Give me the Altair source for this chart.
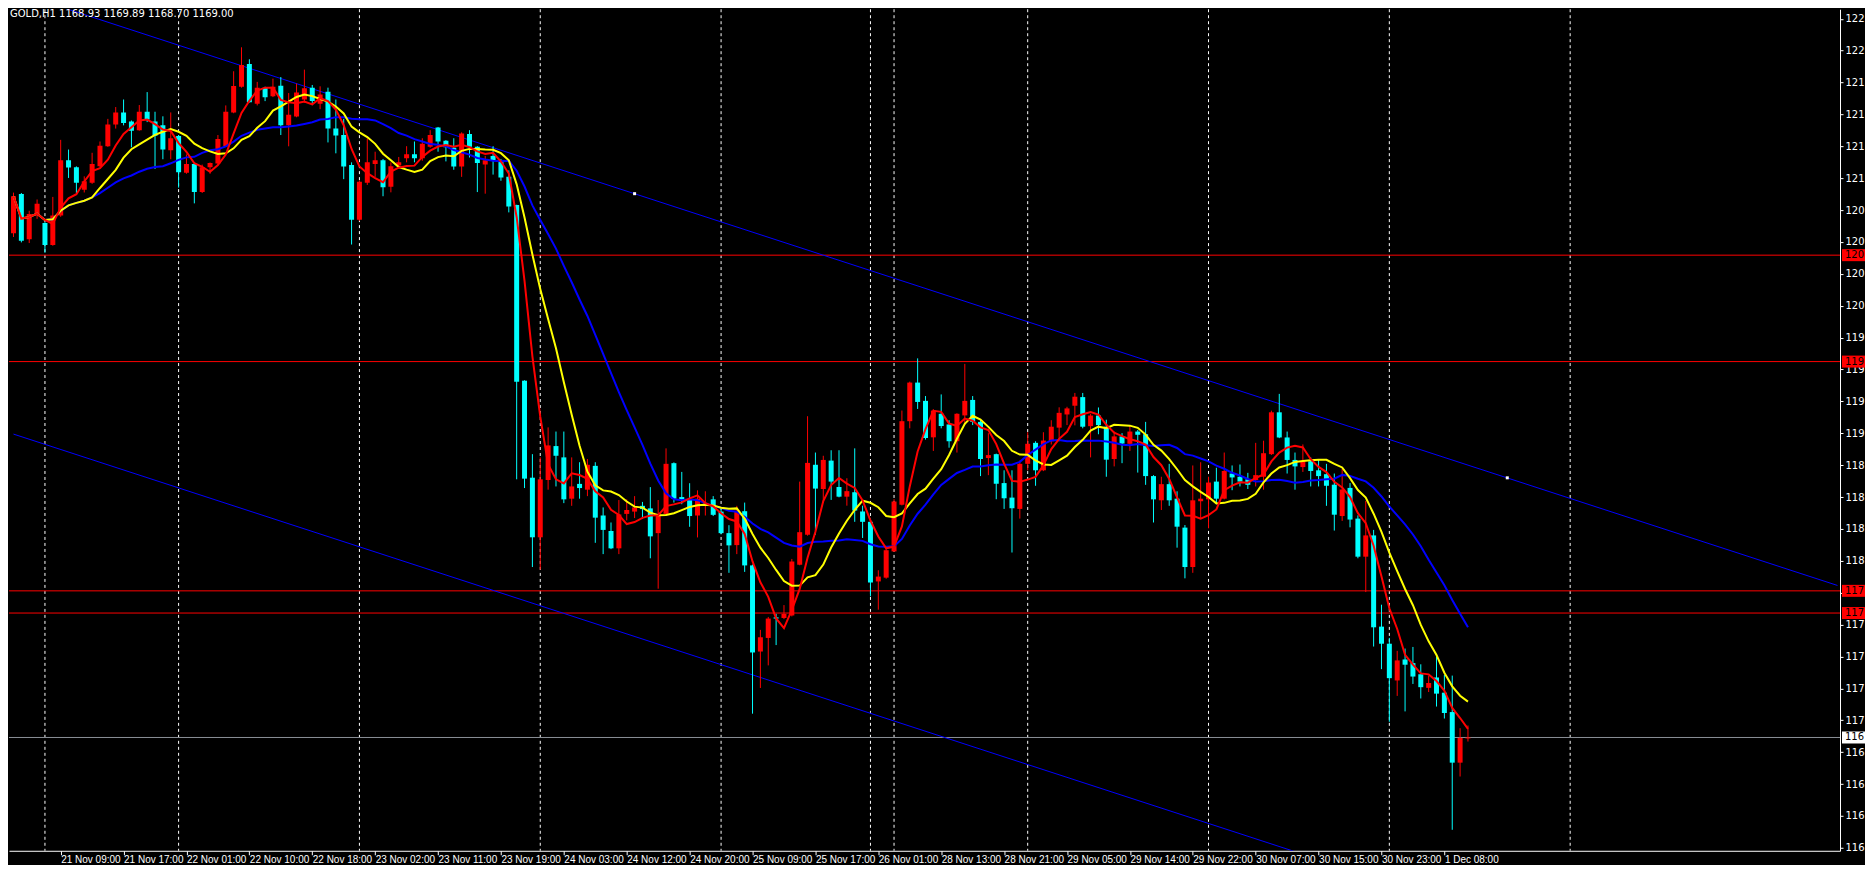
import altair as alt
import pandas as pd

# ---------------- data (GOLD, H1) ----------------
first_bar = -1
opens = [
    1206.47, 1209.39, 1206.04, 1207.79, 1207.24, 1205.61, 1207.79, 1211.91, 1211.38, 1209.71,
    1210.23, 1211.46, 1212.94, 1214.57, 1215.46, 1214.79, 1214.14, 1215.51, 1214.79, 1214.50,
    1212.65, 1213.71, 1210.98, 1211.62, 1209.54, 1211.38, 1211.67, 1212.94, 1215.46, 1217.37,
    1219.05, 1216.10, 1217.30, 1216.66, 1217.45, 1214.50, 1215.15, 1216.42, 1217.30, 1216.10,
    1217.00, 1214.26, 1213.78, 1211.56, 1207.48, 1210.24, 1211.63, 1211.91, 1209.93, 1211.51,
    1212.06, 1212.35, 1212.06, 1212.90, 1214.34, 1213.35, 1212.83, 1211.44, 1213.86, 1212.90,
    1211.58, 1212.23, 1211.87, 1210.67, 1208.58, 1195.52, 1188.31, 1183.88, 1188.14, 1190.66,
    1189.82, 1186.75, 1187.85, 1187.42, 1189.19, 1185.50, 1184.35, 1183.06, 1185.62, 1185.79,
    1186.22, 1186.03, 1184.19, 1185.62, 1189.39, 1186.87, 1186.65, 1185.50, 1186.22, 1186.70,
    1185.79, 1184.19, 1183.30, 1185.82, 1181.79, 1175.39, 1176.40, 1177.93, 1177.88, 1178.07,
    1181.84, 1184.07, 1189.27, 1187.47, 1189.58, 1187.62, 1186.90, 1187.23, 1185.80, 1185.03,
    1180.60, 1180.88, 1182.83, 1186.30, 1192.51, 1195.38, 1194.02, 1191.31, 1193.06, 1192.27,
    1191.02, 1192.94, 1194.09, 1192.46, 1189.77, 1190.06, 1187.91, 1186.83, 1185.99, 1189.34,
    1190.90, 1188.86, 1191.02, 1192.03, 1193.01, 1193.66, 1194.30, 1192.14, 1192.93, 1192.10,
    1189.70, 1191.38, 1190.83, 1191.74, 1191.54, 1188.43, 1186.63, 1187.83, 1186.75, 1184.60,
    1181.67, 1186.56, 1186.70, 1188.02, 1186.75, 1188.62, 1188.38, 1188.19, 1188.14, 1188.38,
    1190.06, 1193.17, 1191.30, 1189.63, 1189.10, 1189.53, 1188.86, 1188.57, 1187.79, 1185.46,
    1187.55, 1185.27, 1182.44, 1184.02, 1177.24, 1175.97, 1173.24, 1174.80, 1174.53, 1173.70,
    1172.69, 1173.46, 1172.33, 1170.89, 1167.13, 1168.93,
]
highs = [
    1209.50, 1209.47, 1208.15, 1208.99, 1207.30, 1209.18, 1213.42, 1212.70, 1211.45, 1210.71,
    1212.46, 1213.30, 1214.98, 1215.86, 1216.42, 1214.86, 1216.01, 1216.97, 1215.51, 1215.17,
    1215.46, 1213.78, 1212.34, 1211.74, 1211.58, 1211.74, 1213.78, 1215.98, 1218.52, 1220.30,
    1219.41, 1217.73, 1217.37, 1217.97, 1218.09, 1216.90, 1217.61, 1218.64, 1217.50, 1217.40,
    1217.30, 1216.42, 1214.98, 1211.75, 1210.40, 1213.54, 1212.54, 1212.00, 1211.75, 1212.15,
    1212.95, 1213.30, 1213.54, 1214.14, 1214.38, 1213.40, 1213.54, 1213.98, 1214.14, 1212.95,
    1212.23, 1212.95, 1212.00, 1211.15, 1208.60, 1195.55, 1190.06, 1189.82, 1192.05, 1191.74,
    1191.74, 1189.82, 1189.46, 1189.70, 1189.46, 1186.10, 1184.98, 1186.65, 1186.70, 1186.94,
    1186.51, 1187.61, 1186.65, 1190.49, 1189.45, 1188.74, 1187.90, 1187.37, 1187.30, 1186.94,
    1186.10, 1184.78, 1186.22, 1186.46, 1181.85, 1177.00, 1177.96, 1178.19, 1178.84, 1182.27,
    1188.02, 1192.88, 1190.18, 1189.94, 1190.35, 1190.35, 1188.27, 1190.49, 1186.23, 1185.27,
    1181.43, 1183.11, 1186.71, 1193.30, 1195.45, 1197.18, 1194.38, 1193.40, 1194.50, 1192.58,
    1193.10, 1196.77, 1194.38, 1192.65, 1191.62, 1190.10, 1188.86, 1188.86, 1189.58, 1191.69,
    1191.02, 1191.69, 1192.58, 1193.54, 1193.58, 1194.61, 1194.61, 1193.05, 1193.53, 1192.62,
    1191.74, 1191.62, 1192.17, 1191.86, 1192.46, 1188.50, 1188.38, 1189.34, 1187.30, 1184.79,
    1189.22, 1189.46, 1188.38, 1189.05, 1190.18, 1189.22, 1189.29, 1188.67, 1190.90, 1191.06,
    1193.29, 1194.54, 1191.74, 1190.18, 1190.78, 1189.82, 1189.63, 1189.34, 1188.62, 1188.98,
    1187.91, 1185.51, 1186.59, 1184.43, 1178.87, 1176.40, 1175.44, 1175.61, 1175.73, 1174.44,
    1173.58, 1175.01, 1173.65, 1173.60, 1169.69, 1169.89,
]
lows = [
    1206.20, 1205.80, 1205.75, 1207.55, 1205.03, 1205.55, 1207.70, 1210.59, 1209.47, 1209.51,
    1210.15, 1211.40, 1212.90, 1214.26, 1214.50, 1212.87, 1214.10, 1214.74, 1211.26, 1211.98,
    1211.98, 1209.87, 1210.90, 1208.70, 1209.47, 1210.90, 1211.60, 1212.90, 1215.40, 1217.30,
    1216.20, 1215.98, 1216.30, 1216.60, 1213.78, 1212.94, 1215.10, 1216.18, 1216.00, 1215.70,
    1213.23, 1212.42, 1210.50, 1205.64, 1207.40, 1210.07, 1210.67, 1209.23, 1209.52, 1211.27,
    1211.75, 1211.75, 1211.87, 1212.83, 1212.54, 1211.82, 1211.20, 1210.67, 1212.11, 1209.54,
    1209.42, 1210.84, 1210.38, 1208.03, 1188.19, 1187.54, 1181.67, 1181.48, 1187.42, 1187.66,
    1186.42, 1186.22, 1186.75, 1186.94, 1183.47, 1182.63, 1183.00, 1182.63, 1185.14, 1185.31,
    1185.26, 1182.32, 1180.06, 1185.55, 1186.46, 1186.34, 1184.66, 1183.87, 1185.50, 1185.46,
    1184.10, 1181.24, 1182.63, 1181.31, 1170.77, 1172.68, 1174.36, 1175.87, 1177.80, 1178.00,
    1181.80, 1184.00, 1184.07, 1186.47, 1186.66, 1186.85, 1186.23, 1185.03, 1183.83, 1179.50,
    1178.50, 1180.80, 1182.80, 1186.25, 1191.98, 1193.42, 1191.14, 1190.30, 1191.98, 1190.54,
    1190.18, 1192.22, 1192.22, 1188.43, 1188.50, 1186.71, 1185.99, 1182.75, 1185.27, 1188.86,
    1187.71, 1188.80, 1190.78, 1191.02, 1192.22, 1192.20, 1191.98, 1189.82, 1191.54, 1188.38,
    1189.15, 1189.39, 1190.30, 1188.69, 1187.78, 1184.98, 1185.91, 1186.22, 1183.11, 1180.83,
    1181.24, 1185.27, 1184.55, 1186.34, 1186.70, 1187.38, 1187.66, 1187.47, 1187.66, 1187.42,
    1190.00, 1191.25, 1188.62, 1187.42, 1188.74, 1187.66, 1187.66, 1186.22, 1184.38, 1185.10,
    1184.62, 1182.32, 1179.81, 1175.76, 1174.08, 1170.17, 1172.09, 1170.94, 1172.98, 1171.90,
    1172.38, 1171.30, 1170.41, 1162.14, 1166.10, 1168.70,
]
closes = [
    1209.23, 1205.92, 1207.91, 1208.68, 1205.61, 1207.79, 1211.91, 1211.36, 1210.23, 1210.35,
    1211.62, 1212.99, 1214.57, 1215.46, 1214.67, 1214.09, 1215.51, 1214.93, 1213.73, 1212.70,
    1213.54, 1211.02, 1211.62, 1209.54, 1211.38, 1211.70, 1213.49, 1215.51, 1217.42, 1218.98,
    1216.22, 1217.30, 1216.58, 1217.37, 1214.50, 1215.29, 1216.94, 1217.25, 1216.30, 1216.80,
    1214.26, 1213.74, 1211.44, 1207.48, 1210.31, 1211.75, 1211.91, 1209.90, 1211.46, 1211.75,
    1212.35, 1212.06, 1213.14, 1213.78, 1213.30, 1212.87, 1211.44, 1213.90, 1212.90, 1211.70,
    1211.91, 1211.91, 1210.62, 1208.46, 1195.45, 1188.24, 1183.88, 1188.19, 1190.71, 1189.94,
    1186.70, 1187.66, 1187.54, 1189.27, 1185.34, 1184.43, 1183.06, 1185.58, 1185.91, 1186.10,
    1185.98, 1183.95, 1185.62, 1189.34, 1186.75, 1186.70, 1185.46, 1186.75, 1186.41, 1185.55,
    1184.19, 1183.28, 1185.86, 1181.79, 1175.32, 1176.45, 1177.84, 1177.84, 1178.19, 1182.08,
    1184.26, 1189.41, 1187.50, 1189.63, 1188.02, 1186.90, 1187.31, 1185.87, 1185.03, 1180.52,
    1180.96, 1182.92, 1186.54, 1192.51, 1195.38, 1193.94, 1191.26, 1193.30, 1192.15, 1191.02,
    1193.06, 1194.02, 1192.46, 1189.70, 1189.99, 1187.86, 1186.78, 1186.04, 1189.34, 1190.83,
    1188.86, 1191.07, 1192.10, 1193.13, 1193.46, 1194.33, 1192.10, 1192.93, 1192.22, 1189.65,
    1191.38, 1190.85, 1191.74, 1191.50, 1188.43, 1186.70, 1187.83, 1186.63, 1184.67, 1181.67,
    1186.63, 1186.75, 1187.95, 1186.75, 1188.81, 1188.33, 1188.02, 1187.78, 1188.50, 1190.13,
    1193.17, 1191.30, 1189.63, 1189.15, 1189.53, 1188.81, 1188.43, 1187.71, 1185.56, 1187.43,
    1185.20, 1182.44, 1184.02, 1177.19, 1175.97, 1173.41, 1174.73, 1174.41, 1173.53, 1172.74,
    1173.05, 1172.26, 1170.82, 1167.13, 1168.97, 1169.00,
]
assert len(opens) == len(highs) == len(lows) == len(closes)
bars = list(range(first_bar, first_bar + len(opens)))

# time axis labels (bar index -> text)
x_tick_bars = [5, 13, 21, 29, 37, 45, 53, 61, 69, 77, 85, 93, 101, 109, 117, 125,
               133, 141, 149, 157, 165, 173, 181]
x_tick_labels = ["21 Nov 09:00", "21 Nov 17:00", "22 Nov 01:00", "22 Nov 10:00", "22 Nov 18:00",
                 "23 Nov 02:00", "23 Nov 11:00", "23 Nov 19:00", "24 Nov 03:00", "24 Nov 12:00",
                 "24 Nov 20:00", "25 Nov 09:00", "25 Nov 17:00", "26 Nov 01:00", "28 Nov 13:00",
                 "28 Nov 21:00", "29 Nov 05:00", "29 Nov 14:00", "29 Nov 22:00", "30 Nov 07:00",
                 "30 Nov 15:00", "30 Nov 23:00", "1 Dec 08:00"]
# price axis ticks (the reference only shows their first three digits)
y_ticks = [1160.80, 1163.17, 1165.54, 1167.91, 1170.28, 1172.65, 1175.02, 1177.39, 1179.76,
           1182.13, 1184.50, 1186.87, 1189.24, 1191.61, 1193.98, 1196.35, 1198.72, 1201.09,
           1203.46, 1205.83, 1208.20, 1210.57, 1212.94, 1215.31, 1217.68, 1220.05, 1222.42]

# day separators (bar index)
separator_bars = [3, 20, 43, 66, 89, 108, 111, 128, 151, 174, 197]
# horizontal levels
red_levels = [1204.85, 1196.94, 1179.90, 1178.25]
bid_price = 1169.00
# channel trend lines (two end points each)
channel_names = ["upper", "upper", "lower", "lower"]
channel_bars = [-1, 231, -1, 231]
channel_prices = [1224.45, 1180.30, 1191.55, 1147.38]
anchor_bars = [78, 189]
anchor_prices = [1209.42, 1188.30]
header = "GOLD,H1  1168.93 1169.89 1168.70 1169.00"
ma_periods = [("#0000FF", 20), ("#FFFF00", 10), ("#FF0000", 5)]

# ---------------- chart ----------------
candles = pd.DataFrame({"bar": bars, "open": opens, "high": highs, "low": lows, "close": closes})
candles["dir"] = ["up" if c >= o else "down" for o, c in zip(opens, closes)]

W, H = 1832, 842
FONT = "DejaVu Sans"
XFONT = "Liberation Sans"
xscale = alt.Scale(domain=[-0.9375, 230.6875], nice=False, zero=False)
yscale = alt.Scale(domain=[1160.58, 1223.13], nice=False, zero=False)

label_expr = ("[" + ",".join("'%s'" % s for s in x_tick_labels) + "][indexof(["
              + ",".join(str(b) for b in x_tick_bars) + "], datum.value)]")

x_axis = alt.Axis(orient="bottom", values=x_tick_bars, labelExpr=label_expr, title=None, grid=False,
                  domainColor="#FFFFFF", domainWidth=1, tickColor="#FFFFFF", tickSize=4, tickWidth=1,
                  labelColor="#FFFFFF", labelFont=XFONT, labelFontSize=10, labelAlign="left",
                  labelBaseline="top", labelPadding=0, labelOverlap=False, labelFlush=False,
                  labelBound=False)
y_axis = alt.Axis(orient="right", values=y_ticks, title=None, grid=False,
                  labelExpr="substring(format(datum.value, '.2f'), 0, 3)",
                  domainColor="#FFFFFF", domainWidth=1, tickColor="#FFFFFF", tickSize=3, tickWidth=1,
                  labelColor="#FFFFFF", labelFont=FONT, labelFontSize=10, labelPadding=2,
                  labelOverlap=False, labelFlush=False, labelBound=False)


def X(field="bar"):
    return alt.X(field + ":Q", scale=xscale, axis=x_axis)


def Y(field):
    return alt.Y(field + ":Q", scale=yscale, axis=y_axis)


candle_color = alt.Color("dir:N", scale=alt.Scale(domain=["up", "down"], range=["#FF0000", "#00FFFF"]),
                         legend=None)

sep = alt.Chart(pd.DataFrame({"bar": separator_bars})).mark_rule(
    color="#FFFFFF", strokeWidth=1, strokeDash=[3, 3]).encode(x=X("bar"))

levels = alt.Chart(pd.DataFrame({"price": red_levels})).mark_rule(
    color="#FF0000", strokeWidth=1).encode(y=Y("price"))

bid = alt.Chart(pd.DataFrame({"price": [bid_price]})).mark_rule(
    color="#8A8F96", strokeWidth=1).encode(y=Y("price"))

channel = alt.Chart(pd.DataFrame({"line": channel_names, "bar": channel_bars, "price": channel_prices})
                    ).mark_line(color="#0000FF", strokeWidth=1, clip=True).encode(
    x=X("bar"), y=Y("price"), detail="line:N")

anchors = alt.Chart(pd.DataFrame({"bar": anchor_bars, "price": anchor_prices})).mark_square(
    color="#FFFFFF", size=9, opacity=1).encode(x=X("bar"), y=Y("price"))

base = alt.Chart(candles)
wicks = base.mark_rule(strokeWidth=1, clip=True).encode(
    x=X("bar"), y=Y("low"), y2=alt.Y2("high:Q"), color=candle_color)
bodies = base.mark_bar(size=5, clip=True).encode(
    x=X("bar"), y=Y("open"), y2=alt.Y2("close:Q"), color=candle_color)

ma_layers = []
for col, n in ma_periods:
    ma_layers.append(
        base.transform_window(ma="mean(close)", frame=[-(n - 1), 0], sort=[alt.SortField("bar")])
        .mark_line(color=col, strokeWidth=2, clip=True)
        .encode(x=X("bar"), y=Y("ma"))
    )

title_txt = alt.Chart(pd.DataFrame({"t": [header]})).mark_text(
    align="left", baseline="top", color="#FFFFFF", font=FONT, fontSize=10).encode(
    x=alt.value(1), y=alt.value(0), text="t:N")


def price_box(prices, fill):
    src = alt.Chart(pd.DataFrame({"price": prices})).transform_calculate(
        lab="substring(format(datum.price, '.2f'), 0, 3)")
    box = src.mark_tick(orient="horizontal", size=23, thickness=12, opacity=1, color=fill).encode(
        x=alt.value(W + 13.5), y=Y("price"))
    txt = src.mark_text(align="left", baseline="middle", color="#000000", font=FONT,
                        fontSize=10).encode(x=alt.value(W + 5), y=Y("price"), text="lab:N")
    return [box, txt]


chart = alt.layer(
    sep, levels, bid, channel, wicks, bodies, *ma_layers, anchors,
    *price_box(red_levels, "#FF0000"), *price_box([bid_price], "#FFFFFF"), title_txt
).properties(
    width=W, height=H, padding=0, background="#000000",
).configure_view(strokeWidth=0)

chart.save("out.html", embed_options={"renderer": "svg", "actions": False})
